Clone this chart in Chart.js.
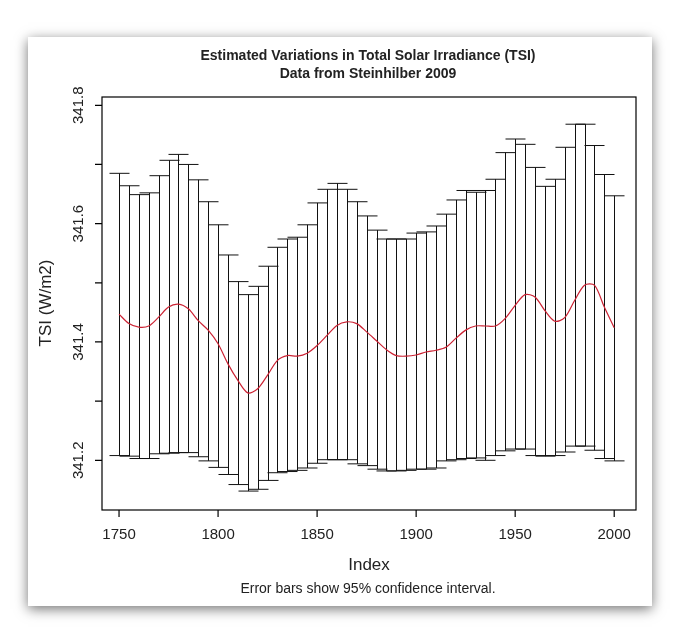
<!DOCTYPE html>
<html><head><meta charset="utf-8">
<script src="https://cdn.jsdelivr.net/npm/chart.js@4"></script>
<style>
html,body{margin:0;padding:0;background:#fff;width:681px;height:643px;overflow:hidden}
#card{position:absolute;left:28px;top:37px;width:624px;height:569px;background:#fff;box-shadow:0 3px 12px rgba(0,0,0,0.55)}
#c{position:absolute;left:0;top:0}
</style></head><body>
<div id="card"></div>
<canvas id="c" width="681" height="643"></canvas>
<script>
const years = [1750,1755,1760,1765,1770,1775,1780,1785,1790,1795,1800,1805,1810,1815,1820,1825,1830,1835,1840,1845,1850,1855,1860,1865,1870,1875,1880,1885,1890,1895,1900,1905,1910,1915,1920,1925,1930,1935,1940,1945,1950,1955,1960,1965,1970,1975,1980,1985,1990,1995,2000];
const meanTSI = [341.447,341.431,341.425,341.427,341.442,341.459,341.464,341.456,341.436,341.420,341.397,341.363,341.335,341.314,341.321,341.344,341.369,341.377,341.376,341.381,341.394,341.411,341.428,341.434,341.431,341.417,341.402,341.387,341.377,341.376,341.378,341.383,341.386,341.391,341.406,341.420,341.427,341.427,341.427,341.440,341.462,341.480,341.476,341.453,341.435,341.441,341.470,341.496,341.496,341.459,341.424];
const upperTSI = [341.685,341.664,341.649,341.652,341.681,341.707,341.717,341.700,341.674,341.637,341.598,341.547,341.502,341.480,341.494,341.528,341.560,341.574,341.577,341.598,341.635,341.658,341.668,341.658,341.637,341.613,341.589,341.574,341.574,341.574,341.584,341.586,341.596,341.616,341.640,341.656,341.653,341.656,341.675,341.720,341.743,341.734,341.695,341.663,341.675,341.729,341.768,341.768,341.732,341.683,341.647];
const lowerTSI = [341.208,341.207,341.203,341.203,341.211,341.212,341.213,341.213,341.206,341.199,341.188,341.176,341.159,341.148,341.151,341.166,341.179,341.181,341.183,341.187,341.195,341.201,341.201,341.201,341.194,341.191,341.185,341.182,341.182,341.183,341.185,341.185,341.187,341.199,341.201,341.203,341.204,341.200,341.208,341.216,341.219,341.219,341.208,341.207,341.208,341.214,341.224,341.224,341.217,341.203,341.199];
const xTicks = [1750,1800,1850,1900,1950,2000];
const yTicks = [341.2,341.3,341.4,341.5,341.6,341.7,341.8];
const yLabels = [341.2,341.4,341.6,341.8];
const titleLines = ["Estimated Variations in Total Solar Irradiance (TSI)","Data from Steinhilber 2009"];

const F = '"Liberation Sans", Arial, sans-serif';
const deco = {
  id:'deco',
  beforeDatasetsDraw(chart){
    const {ctx, scales:{x,y}} = chart;
    ctx.save();
    ctx.strokeStyle = '#111'; ctx.lineWidth = 1;
    years.forEach((yr,i)=>{
      const px = Math.round(x.getPixelForValue(yr))+0.5;
      const pu = y.getPixelForValue(upperTSI[i]), pl = y.getPixelForValue(lowerTSI[i]);
      ctx.beginPath();
      ctx.moveTo(px,pu); ctx.lineTo(px,pl);
      ctx.moveTo(px-10,pu); ctx.lineTo(px+10,pu);
      ctx.moveTo(px-10,pl); ctx.lineTo(px+10,pl);
      ctx.stroke();
    });
    ctx.restore();
  },
  afterDraw(chart){
    const {ctx, chartArea:a, scales:{x,y}} = chart;
    ctx.save();
    ctx.strokeStyle='#000'; ctx.lineWidth=1.2;
    ctx.strokeRect(a.left, a.top, a.right-a.left, a.bottom-a.top);
    ctx.fillStyle='#222';
    ctx.font = '15px '+F; ctx.textAlign='center'; ctx.textBaseline='middle';
    ctx.beginPath();
    xTicks.forEach(t=>{
      const px = x.getPixelForValue(t);
      ctx.moveTo(px,a.bottom); ctx.lineTo(px,a.bottom+7);
      ctx.fillText(String(t), px, 535);
    });
    yTicks.forEach(t=>{
      const py = y.getPixelForValue(t);
      ctx.moveTo(a.left,py); ctx.lineTo(a.left-7,py);
    });
    ctx.stroke();
    yLabels.forEach(t=>{
      const py = y.getPixelForValue(t);
      ctx.save(); ctx.translate(79,py); ctx.rotate(-Math.PI/2);
      ctx.fillText(t.toFixed(1),0,0); ctx.restore();
    });
    ctx.font='17px '+F;
    ctx.fillText('Index', 369, 565);
    ctx.save(); ctx.translate(46,303); ctx.rotate(-Math.PI/2);
    ctx.fillText('TSI (W/m2)',0,0); ctx.restore();
    ctx.font='14px '+F;
    ctx.fillText('Error bars show 95% confidence interval.', 368, 589);
    ctx.font='bold 14px '+F;
    ctx.fillText(titleLines[0], 368, 56);
    ctx.fillText(titleLines[1], 368, 74);
    ctx.restore();
  }
};

new Chart(document.getElementById('c'), {
  type:'line',
  data:{datasets:[{data: years.map((yr,i)=>({x:yr,y:meanTSI[i]})), borderColor:'#cc2233', borderWidth:1.2, pointRadius:0, tension:0.3, fill:false}]},
  options:{
    responsive:false, animation:false,
    layout:{padding:{left:102,top:97,right:45,bottom:133}},
    plugins:{legend:{display:false},tooltip:{enabled:false}},
    scales:{
      x:{type:'linear', min:1741.4, max:2011, display:false},
      y:{type:'linear', min:341.116, max:341.814, display:false}
    }
  },
  plugins:[deco]
});
</script>
</body></html>
